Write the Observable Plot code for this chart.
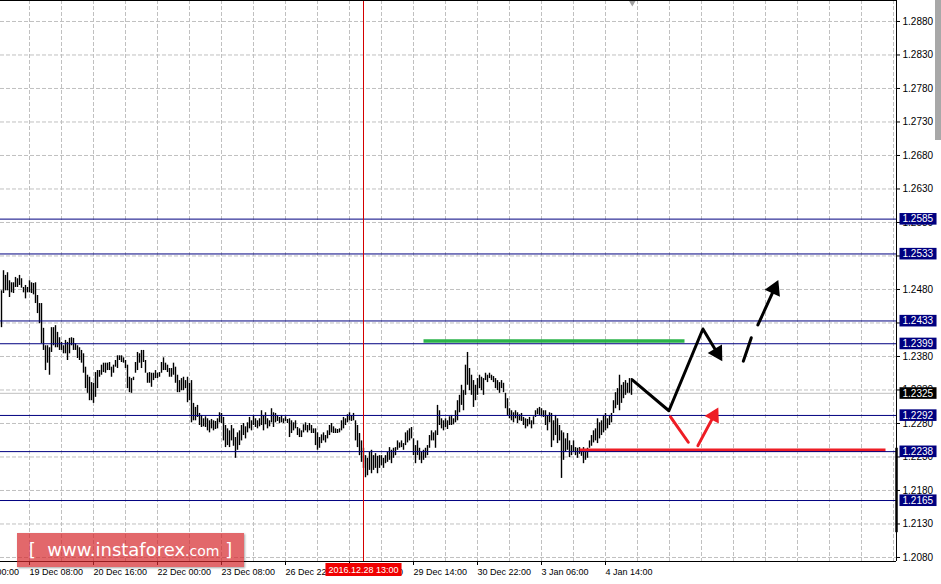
<!DOCTYPE html>
<html><head><meta charset="utf-8">
<script src="https://cdn.jsdelivr.net/npm/d3@7"></script>
<script src="https://cdn.jsdelivr.net/npm/@observablehq/plot@0.6"></script>
<style>
body{margin:0;background:#fff;}
#wrap{position:relative;width:941px;height:584px;overflow:hidden;background:#fff;}
#wm{position:absolute;left:17px;top:533px;width:227px;height:34px;background:rgba(214,40,44,0.7);box-shadow:1px 1px 2px rgba(0,0,0,0.35);color:#fff;font-family:"DejaVu Sans",sans-serif;font-size:18px;line-height:33px;white-space:nowrap;text-align:center}
#wm small{font-size:14px}
#sb{position:absolute;left:935px;top:0;width:6px;height:140px;background:#a8a8a8}
</style></head><body><div id="wrap"><div id="sb"></div><div id="wm">[&nbsp;&nbsp;www.instaforex<small>.com</small>&nbsp;]</div></div>
<script>
// ---- data: hourly bars (high / low) ----
const highs = [
1.2478,1.2508,1.2501,1.2505,1.2493,1.2490,1.2490,1.2498,1.2496,1.2501,
1.2496,1.2483,1.2486,1.2483,1.2493,1.2490,1.2489,1.2490,1.2471,1.2459,
1.2459,1.2422,1.2396,1.2396,1.2393,1.2423,1.2423,1.2426,1.2416,1.2408,
1.2401,1.2396,1.2404,1.2401,1.2407,1.2408,1.2407,1.2399,1.2396,1.2393,
1.2389,1.2384,1.2364,1.2352,1.2349,1.2341,1.2340,1.2356,1.2359,1.2359,
1.2367,1.2370,1.2370,1.2370,1.2371,1.2364,1.2367,1.2374,1.2381,1.2381,
1.2381,1.2378,1.2374,1.2367,1.2349,1.2347,1.2349,1.2371,1.2386,1.2384,
1.2389,1.2389,1.2374,1.2355,1.2356,1.2355,1.2355,1.2359,1.2355,1.2356,
1.2371,1.2378,1.2370,1.2367,1.2362,1.2362,1.2370,1.2364,1.2352,1.2344,
1.2347,1.2349,1.2344,1.2349,1.2340,1.2344,1.2310,1.2304,1.2307,1.2295,
1.2292,1.2287,1.2290,1.2287,1.2284,1.2286,1.2284,1.2283,1.2287,1.2296,
1.2295,1.2289,1.2277,1.2272,1.2269,1.2277,1.2272,1.2259,1.2266,1.2269,
1.2277,1.2280,1.2275,1.2281,1.2289,1.2284,1.2292,1.2287,1.2284,1.2287,
1.2299,1.2292,1.2296,1.2287,1.2284,1.2302,1.2296,1.2295,1.2292,1.2289,
1.2292,1.2287,1.2290,1.2286,1.2287,1.2284,1.2281,1.2284,1.2274,1.2272,
1.2269,1.2278,1.2281,1.2277,1.2280,1.2277,1.2272,1.2272,1.2266,1.2259,
1.2263,1.2266,1.2262,1.2269,1.2277,1.2280,1.2275,1.2272,1.2271,1.2272,
1.2284,1.2289,1.2287,1.2293,1.2296,1.2292,1.2295,1.2284,1.2277,1.2265,
1.2254,1.2243,1.2232,1.2228,1.2237,1.2240,1.2232,1.2235,1.2231,1.2232,
1.2232,1.2228,1.2232,1.2237,1.2244,1.2240,1.2243,1.2244,1.2254,1.2251,
1.2254,1.2250,1.2266,1.2269,1.2272,1.2274,1.2257,1.2247,1.2254,1.2243,
1.2237,1.2240,1.2243,1.2247,1.2262,1.2269,1.2266,1.2269,1.2307,1.2299,
1.2287,1.2284,1.2287,1.2284,1.2290,1.2292,1.2287,1.2299,1.2314,1.2322,
1.2337,1.2329,1.2367,1.2386,1.2362,1.2352,1.2344,1.2337,1.2347,1.2352,
1.2349,1.2347,1.2355,1.2352,1.2355,1.2352,1.2350,1.2347,1.2344,1.2341,
1.2344,1.2340,1.2325,1.2317,1.2302,1.2299,1.2296,1.2299,1.2296,1.2293,
1.2295,1.2289,1.2287,1.2286,1.2289,1.2284,1.2290,1.2299,1.2302,1.2304,
1.2302,1.2299,1.2299,1.2292,1.2296,1.2295,1.2284,1.2292,1.2287,1.2277,
1.2269,1.2266,1.2257,1.2265,1.2254,1.2247,1.2254,1.2244,1.2243,1.2244,
1.2241,1.2244,1.2240,1.2243,1.2254,1.2262,1.2269,1.2272,1.2287,1.2281,
1.2284,1.2292,1.2295,1.2287,1.2292,1.2295,1.2314,1.2326,1.2332,1.2352,
1.2337,1.2341,1.2344,1.2340,1.2347,1.2347];
const lows = [
1.2423,1.2474,1.2478,1.2478,1.2468,1.2475,1.2474,1.2483,1.2483,1.2486,
1.2482,1.2475,1.2466,1.2475,1.2475,1.2474,1.2472,1.2459,1.2444,1.2429,
1.2399,1.2389,1.2359,1.2370,1.2352,1.2386,1.2396,1.2393,1.2393,1.2389,
1.2389,1.2384,1.2384,1.2374,1.2384,1.2396,1.2389,1.2389,1.2377,1.2374,
1.2370,1.2355,1.2332,1.2325,1.2314,1.2314,1.2310,1.2319,1.2332,1.2349,
1.2352,1.2356,1.2355,1.2359,1.2359,1.2349,1.2355,1.2364,1.2362,1.2374,
1.2371,1.2370,1.2362,1.2332,1.2326,1.2325,1.2344,1.2355,1.2359,1.2370,
1.2362,1.2371,1.2355,1.2340,1.2340,1.2334,1.2344,1.2347,1.2347,1.2349,
1.2355,1.2359,1.2359,1.2356,1.2349,1.2349,1.2352,1.2340,1.2326,1.2326,
1.2329,1.2329,1.2332,1.2311,1.2314,1.2281,1.2284,1.2284,1.2289,1.2277,
1.2274,1.2275,1.2274,1.2269,1.2266,1.2272,1.2269,1.2271,1.2272,1.2281,
1.2280,1.2254,1.2244,1.2247,1.2244,1.2254,1.2246,1.2228,1.2240,1.2247,
1.2254,1.2262,1.2257,1.2266,1.2272,1.2269,1.2277,1.2274,1.2272,1.2275,
1.2277,1.2269,1.2278,1.2272,1.2275,1.2281,1.2274,1.2281,1.2283,1.2280,
1.2281,1.2280,1.2283,1.2280,1.2259,1.2265,1.2269,1.2272,1.2262,1.2259,
1.2259,1.2266,1.2269,1.2266,1.2269,1.2265,1.2265,1.2247,1.2240,1.2243,
1.2250,1.2254,1.2251,1.2257,1.2262,1.2266,1.2265,1.2265,1.2265,1.2266,
1.2269,1.2272,1.2277,1.2281,1.2284,1.2283,1.2284,1.2254,1.2244,1.2232,
1.2222,1.2213,1.2199,1.2202,1.2210,1.2205,1.2210,1.2213,1.2205,1.2213,
1.2217,1.2213,1.2220,1.2222,1.2225,1.2220,1.2228,1.2232,1.2240,1.2243,
1.2244,1.2240,1.2247,1.2251,1.2254,1.2257,1.2232,1.2220,1.2232,1.2225,
1.2220,1.2225,1.2228,1.2232,1.2243,1.2254,1.2254,1.2243,1.2262,1.2277,
1.2272,1.2269,1.2274,1.2271,1.2277,1.2277,1.2278,1.2281,1.2284,1.2296,
1.2307,1.2299,1.2322,1.2337,1.2329,1.2322,1.2304,1.2314,1.2322,1.2332,
1.2329,1.2322,1.2344,1.2341,1.2347,1.2344,1.2341,1.2332,1.2329,1.2325,
1.2332,1.2326,1.2302,1.2292,1.2287,1.2284,1.2281,1.2287,1.2280,1.2284,
1.2283,1.2277,1.2272,1.2275,1.2278,1.2272,1.2278,1.2289,1.2293,1.2292,
1.2290,1.2289,1.2277,1.2269,1.2281,1.2244,1.2254,1.2262,1.2250,1.2254,
1.2198,1.2225,1.2237,1.2240,1.2229,1.2232,1.2237,1.2232,1.2228,1.2234,
1.2231,1.2220,1.2225,1.2228,1.2243,1.2246,1.2251,1.2254,1.2250,1.2257,
1.2262,1.2266,1.2269,1.2272,1.2277,1.2281,1.2295,1.2302,1.2307,1.2299,
1.2310,1.2317,1.2322,1.2325,1.2325,1.2322];

const levels = [1.2585, 1.2533, 1.2433, 1.2399, 1.2292, 1.2238, 1.2165];
const bidPrice = 1.2325;
const priceTicks = [1.2080,1.2130,1.2180,1.2230,1.2280,1.2330,1.2380,1.2430,1.2480,1.2530,1.2580,1.2630,1.2680,1.2730,1.2780,1.2830,1.2880];
const timeTickIdx = [-18, 14, 46, 78, 110, 142, 174, 206, 238, 270, 302];
const timeTickLabels = ["16 Dec 00:00","19 Dec 08:00","20 Dec 16:00","22 Dec 00:00","23 Dec 08:00","26 Dec 22:00","28 Dec 06:00","29 Dec 14:00","30 Dec 22:00","3 Jan 06:00","4 Jan 14:00"];
const cursorIdx = 181;
const cursorLabel = "2016.12.28 13:00";
const shiftIdx = 315.4;
const rightBar = [1.2117, 1.2243];
// drawn analysis objects (bar index, price)
const greenLine = [[211, 1.2403], [341.5, 1.2403]];
const redLine = [[289, 1.2240], [442, 1.2240]];
const blackPath = [[315.4, 1.2345], [333.7, 1.2299], [350.7, 1.2421], [360.4, 1.2373]];
const blackDash = [[370.9, 1.2373], [374.9, 1.2408]];
const blackUp = [[378.2, 1.2427], [388.4, 1.2494]];
const redDown = [[334.5, 1.2290], [343.4, 1.2252]];
const redUp = [[348.2, 1.2247], [358.4, 1.2304]];

// ---- layout ----
const W = 941, H = 584, mL = 0, mR = 45, mT = 0, mB = 23;
const xDom = [-0.5, 447.5], yDom = [1.2074, 1.29113];
const kx = (W - mL - mR) / (xDom[1] - xDom[0]);
const ky = (H - mT - mB) / (yDom[1] - yDom[0]);
const bars = highs.map((h, i) => ({i, high: h, low: lows[i]}));
const xGrid = d3.range(14, 448, 16);

function withHead(seg, r) {
  const a = seg[seg.length - 2], b = seg[seg.length - 1];
  const dx = (b[0] - a[0]) * kx, dy = -(b[1] - a[1]) * ky;
  const L = Math.hypot(dx, dy), ux = dx / L, uy = dy / L;
  const back = 1.555 * r;
  const c = [b[0] - ux * back / kx, b[1] + uy * back / ky];
  return {line: [...seg.slice(0, -1), c], head: [{x: c[0], y: c[1], rot: Math.atan2(ux, -uy) * 180 / Math.PI}]};
}
const bHead = withHead(blackPath, 6.2);
const bUp = withHead(blackUp, 6.2);
const rUp = withHead(redUp, 6);

const levelTags = [...levels.map(p => ({p, c: "#000080"})), {p: bidPrice, c: "#000000"}];
const dash = "4,2";
const grey = "#c0c0c0";
const RED = "#ee1d25";
const TAGFILL = "#fffffe", CURFILL = "#fffffd";

const svg = Plot.plot({
  width: W, height: H,
  marginLeft: mL, marginRight: mR, marginTop: mT, marginBottom: mB,
  x: {domain: xDom, axis: null},
  y: {domain: yDom, axis: null},
  style: {background: "white", fontFamily: "'Liberation Sans', Arial, sans-serif", fontSize: "9px", color: "black", overflow: "visible"},
  marks: [
    Plot.ruleY(priceTicks, {y: d => d, stroke: grey, strokeDasharray: dash}),
    Plot.ruleX(xGrid, {x: d => d, stroke: grey, strokeDasharray: dash}),
    Plot.ruleY([bidPrice], {y: d => d, stroke: grey}),
    Plot.ruleX(bars, {x: "i", y1: "low", y2: "high", stroke: "black", strokeWidth: 1.4}),
    Plot.line(greenLine, {x: d => d[0], y: d => d[1], stroke: "#2bb34a", strokeWidth: 3.5, strokeLinecap: "butt"}),
    Plot.line(redLine, {x: d => d[0], y: d => d[1], stroke: RED, strokeWidth: 3.5, strokeLinecap: "butt"}),
    Plot.ruleY(levels, {y: d => d, stroke: "#000080"}),
    Plot.ruleX([cursorIdx], {x: d => d, stroke: "#d40000"}),
    Plot.line(bHead.line, {x: d => d[0], y: d => d[1], stroke: "black", strokeWidth: 3}),
    Plot.dot(bHead.head, {x: "x", y: "y", rotate: "rot", symbol: "triangle", r: 6.2, fill: "black", stroke: "none"}),
    Plot.line(blackDash, {x: d => d[0], y: d => d[1], stroke: "black", strokeWidth: 3}),
    Plot.line(bUp.line, {x: d => d[0], y: d => d[1], stroke: "black", strokeWidth: 3}),
    Plot.dot(bUp.head, {x: "x", y: "y", rotate: "rot", symbol: "triangle", r: 6.2, fill: "black", stroke: "none"}),
    Plot.line(redDown, {x: d => d[0], y: d => d[1], stroke: RED, strokeWidth: 3}),
    Plot.line(rUp.line, {x: d => d[0], y: d => d[1], stroke: RED, strokeWidth: 3}),
    Plot.dot(rUp.head, {x: "x", y: "y", rotate: "rot", symbol: "triangle", r: 6, fill: RED, stroke: "none"}),
    Plot.dot([shiftIdx], {x: d => d, frameAnchor: "top", symbol: "triangle", rotate: 180, r: 2.6, fill: "#a0a0a0", stroke: "none", dy: 2}),
    // frame (top, right, bottom)
    Plot.ruleY([yDom[1]], {y: d => d, stroke: "black"}),
    Plot.ruleY([yDom[0]], {y: d => d, stroke: "black"}),
    Plot.ruleX([xDom[1]], {x: d => d, stroke: "black"}),
    Plot.ruleX([xDom[1]], {x: d => d, y1: rightBar[0], y2: rightBar[1], stroke: "black", strokeWidth: 2.5}),
    Plot.axisY(priceTicks, {anchor: "right", tickSize: 3, tickPadding: 3, tickFormat: d3.format(".4f"), label: null, fill: "black", fontSize: 10}),
    Plot.axisX(timeTickIdx, {anchor: "bottom", tickSize: 4, tickPadding: 3, textAnchor: "start", label: null, fill: "black", fontSize: 9,
      tickFormat: d => timeTickLabels[timeTickIdx.indexOf(d)]}),
    Plot.text(levelTags, {y: "p", frameAnchor: "right", dx: 6, textAnchor: "start", text: d => d3.format(".4f")(d.p), fill: TAGFILL, fontSize: 10}),
    Plot.text([cursorIdx], {x: d => d, frameAnchor: "bottom", dy: 11, text: () => cursorLabel, fill: CURFILL, fontSize: 9})
  ]
});
const wrap = document.getElementById("wrap");
wrap.insertBefore(svg, wrap.firstChild);
svg.style.position = "absolute"; svg.style.left = "0px"; svg.style.top = "0px";

const NS = "http://www.w3.org/2000/svg";
function findTexts(fill) {
  const out = [];
  svg.querySelectorAll("text").forEach(t => {
    let n = t, f = null;
    while (n && n !== svg) { const a = n.getAttribute && n.getAttribute("fill"); if (a) { f = a; break; } n = n.parentNode; }
    if (f && f.toLowerCase() === fill) out.push(t);
  });
  return out;
}
function addBoxes(fill, colorFn, padL, padR, padY) {
  findTexts(fill).forEach((t, k) => {
    const b = t.getBBox();
    const r = document.createElementNS(NS, "rect");
    r.setAttribute("x", b.x - padL);
    r.setAttribute("y", b.y - padY);
    r.setAttribute("width", b.width + padL + padR);
    r.setAttribute("height", b.height + 2 * padY);
    const tr = t.getAttribute("transform");
    if (tr) r.setAttribute("transform", tr);
    r.setAttribute("fill", colorFn(k));
    r.setAttribute("stroke", "none");
    t.parentNode.insertBefore(r, t);
  });
}
addBoxes(TAGFILL, k => levelTags[k].c, 3, 3, 0.3);
addBoxes(CURFILL, () => "#f00000", 3, 3, 1.5);
</script></body></html>
